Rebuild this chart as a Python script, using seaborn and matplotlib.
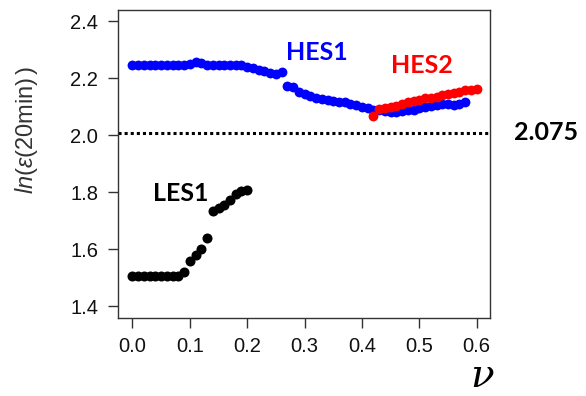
import numpy as np
import pandas as pd
import matplotlib
matplotlib.use("Agg")
import matplotlib.pyplot as plt
import seaborn as sns

# HES1 (blue)
hes1_v = [0.00, 0.01, 0.02, 0.03, 0.04, 0.05, 0.06, 0.07, 0.08, 0.09,
          0.10, 0.11, 0.12, 0.13, 0.14, 0.15, 0.16, 0.17, 0.18, 0.19,
          0.20, 0.21, 0.22, 0.23, 0.24, 0.25, 0.26,
          0.27, 0.28, 0.29, 0.30, 0.31, 0.32, 0.33, 0.34, 0.35, 0.36,
          0.37, 0.38, 0.39, 0.40, 0.41, 0.42, 0.43, 0.44, 0.45, 0.46,
          0.47, 0.48, 0.49, 0.50, 0.51, 0.52, 0.53, 0.54, 0.55, 0.56,
          0.57, 0.58]
hes1_val = [2.245, 2.245, 2.245, 2.245, 2.245, 2.245, 2.245, 2.245, 2.245, 2.247,
            2.250, 2.256, 2.252, 2.248, 2.248, 2.248, 2.248, 2.248, 2.247, 2.245,
            2.240, 2.236, 2.230, 2.226, 2.220, 2.216, 2.222,
            2.174, 2.168, 2.150, 2.145, 2.136, 2.130, 2.128, 2.125, 2.121, 2.118,
            2.115, 2.110, 2.106, 2.100, 2.095, 2.090, 2.088, 2.085, 2.082, 2.080,
            2.084, 2.087, 2.090, 2.094, 2.098, 2.102, 2.107, 2.110, 2.108, 2.105,
            2.108, 2.118]

# HES2 (red)
hes2_v = [0.42, 0.43, 0.44, 0.45, 0.46, 0.47, 0.48, 0.49, 0.50, 0.51,
          0.52, 0.53, 0.54, 0.55, 0.56, 0.57, 0.58, 0.59, 0.60]
hes2_val = [2.068, 2.092, 2.096, 2.098, 2.101, 2.108, 2.115, 2.119, 2.124, 2.129,
            2.132, 2.135, 2.140, 2.144, 2.148, 2.152, 2.157, 2.160, 2.163]

# LES1 (black)
les1_v = [0.00, 0.01, 0.02, 0.03, 0.04, 0.05, 0.06, 0.07, 0.08, 0.09,
          0.10, 0.11, 0.12, 0.13, 0.14, 0.15, 0.16, 0.17, 0.18, 0.19, 0.20]
les1_val = [1.506, 1.506, 1.506, 1.506, 1.506, 1.506, 1.506, 1.506, 1.506, 1.522,
            1.558, 1.580, 1.600, 1.640, 1.735, 1.745, 1.756, 1.772, 1.795, 1.805, 1.807]

threshold = 2.008
threshold_label = "2.075"

sns.set_theme(style="ticks")
plt.rcParams["font.family"] = ["Liberation Sans", "DejaVu Sans"]
plt.rcParams["mathtext.fontset"] = "custom"
plt.rcParams["mathtext.rm"] = "Liberation Sans"
plt.rcParams["mathtext.it"] = "Liberation Sans:italic"

fig = plt.figure(figsize=(5.86, 3.96), dpi=100)
ax = fig.add_axes([0.201, 0.197, 0.635, 0.779])

sns.scatterplot(x=hes1_v, y=hes1_val, color="#0000ff", s=50, linewidth=0, ax=ax, zorder=3)
sns.scatterplot(x=hes2_v, y=hes2_val, color="#ff0000", s=50, linewidth=0, ax=ax, zorder=4)
sns.scatterplot(x=les1_v, y=les1_val, color="black", s=52, linewidth=0, ax=ax, zorder=3)

ax.axhline(threshold, color="black", lw=2.2, ls=(0, (1, 1)), dash_capstyle="butt", zorder=2)
ax.text(1.15, threshold, threshold_label, transform=ax.get_yaxis_transform(),
        ha="center", va="center", fontsize=18, fontweight="bold", color="black",
        family=["Lato", "DejaVu Sans"], clip_on=False)

label_font = dict(fontsize=18, fontweight="bold", family=["Lato", "DejaVu Sans"],
                  ha="center", va="center")
ax.text(0.322, 2.289, "HES1", color="#0000ff", **label_font)
ax.text(0.505, 2.244, "HES2", color="#ff0000", **label_font)
ax.text(0.084, 1.795, "LES1", color="black", **label_font)

ax.set_xlim(-0.0256, 0.623)
ax.set_ylim(1.359, 2.441)
ax.set_xticks([0.0, 0.1, 0.2, 0.3, 0.4, 0.5, 0.6])
ax.set_xticklabels(["0.0", "0.1", "0.2", "0.3", "0.4", "0.5", "0.6"])
ax.set_yticks([1.4, 1.6, 1.8, 2.0, 2.2, 2.4])
ax.set_yticklabels(["1.4", "1.6", "1.8", "2.0", "2.2", "2.4"])
ax.tick_params(axis="both", direction="out", length=7, width=1, labelsize=14.5,
               pad=7, color="#333333", labelcolor="#111111")

for side in ["top", "right", "left", "bottom"]:
    ax.spines[side].set_visible(True)
    ax.spines[side].set_color("#333333")
    ax.spines[side].set_linewidth(1.0)

ax.set_ylabel(r"$\mathit{ln}(\mathit{\varepsilon}(\mathrm{20min})\,)$", fontsize=17, color="#333333")
ax.yaxis.set_label_coords(-0.21, 0.61)

# x-axis symbol drawn as a text so it sits inside the canvas
ax.text(1.01, -0.19, "ν", transform=ax.transAxes, ha="right", va="center",
        fontsize=28, fontstyle="italic", family=["DejaVu Serif"], color="black",
        clip_on=False)

fig.savefig("out.png", dpi=100, facecolor="white")
